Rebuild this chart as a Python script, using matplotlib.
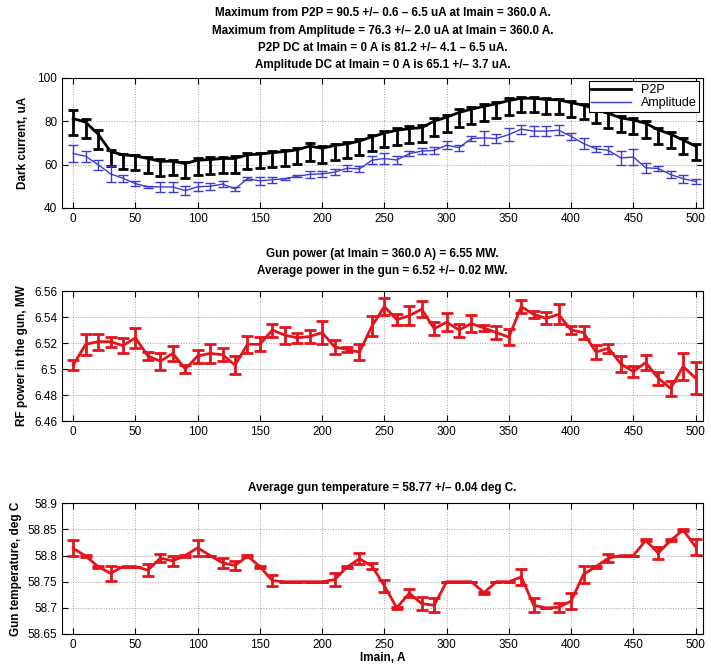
import numpy as np
import matplotlib
matplotlib.use("Agg")
import matplotlib.pyplot as plt
from matplotlib.ticker import FormatStrFormatter, MultipleLocator

plt.rcParams['font.family'] = ['Liberation Sans', 'DejaVu Sans']

# Imain scan, A
imain = np.arange(0, 501, 10)

# dark current, P2P (asymmetric bars: upper = stat, lower = stat + syst)
p2p = [81.2, 79.5, 74.0, 66.0, 64.5, 64.0, 62.8, 61.5, 61.5, 60.5,
       62.0, 62.3, 62.8, 62.8, 64.5, 64.8, 65.5, 66.0, 66.8, 68.5,
       67.5, 68.8, 69.5, 70.8, 72.8, 74.5, 75.8, 76.5, 77.0, 80.0,
       81.8, 84.0, 85.5, 86.8, 88.0, 89.5, 90.5, 90.5, 90.0, 89.8,
       88.5, 87.3, 85.5, 83.5, 81.5, 80.5, 79.0, 76.0, 74.0, 71.3,
       68.5]
p2p_up = [4.1, 1.5, 2.0, 0.6, 0.5, 0.5, 0.6, 0.9, 0.6, 0.9,
          0.9, 1.0, 0.6, 1.0, 0.9, 0.6, 0.7, 0.6, 0.6, 1.5,
          0.9, 0.7, 0.8, 1.0, 1.0, 0.9, 1.1, 1.2, 1.2, 1.5,
          1.0, 1.4, 1.1, 0.9, 0.9, 1.0, 0.6, 0.6, 0.8, 0.6,
          0.7, 0.7, 0.7, 0.8, 0.8, 1.0, 1.0, 0.9, 1.1, 1.1,
          0.8]
p2p_low = [7.7, 7.2, 6.8, 6.5, 6.5, 6.5, 6.5, 6.6, 6.5, 6.6,
           6.6, 6.6, 6.5, 6.6, 6.6, 6.5, 6.5, 6.5, 6.5, 6.7,
           6.6, 6.5, 6.6, 6.6, 6.6, 6.6, 6.6, 6.6, 6.6, 6.7,
           6.6, 6.7, 6.6, 6.6, 6.6, 6.6, 6.5, 6.5, 6.6, 6.5,
           6.5, 6.5, 6.5, 6.6, 6.6, 6.6, 6.6, 6.6, 6.6, 6.6,
           6.6]

# dark current, amplitude
amp = [65.1, 63.8, 60.0, 55.7, 53.7, 51.2, 49.8, 49.7, 49.7, 48.0,
       49.8, 50.0, 51.0, 48.8, 53.5, 52.5, 53.0, 53.5, 54.6, 55.5,
       55.7, 56.5, 58.3, 58.0, 62.0, 62.8, 62.1, 65.0, 66.2, 66.5,
       68.9, 67.8, 72.0, 72.3, 72.0, 73.8, 76.3, 75.4, 75.4, 75.8,
       73.0, 69.7, 67.2, 66.6, 63.0, 63.5, 58.5, 58.2, 55.4, 53.5,
       52.2]
amp_err = [3.7, 2.6, 2.3, 3.6, 1.7, 1.2, 0.5, 2.3, 2.3, 2.1,
           2.1, 1.5, 1.5, 1.0, 0.8, 1.7, 1.5, 0.5, 0.5, 1.7,
           1.5, 1.3, 1.4, 1.2, 1.9, 2.4, 1.8, 1.2, 1.2, 1.5,
           1.9, 1.4, 1.2, 3.1, 1.9, 3.1, 2.0, 2.3, 2.3, 2.3,
           1.5, 2.7, 1.3, 1.9, 3.1, 3.5, 2.3, 1.2, 1.8, 1.9,
           1.0]

# RF power in the gun, MW
power = [6.503, 6.519, 6.521, 6.521, 6.518, 6.524, 6.510, 6.506, 6.512, 6.500,
         6.510, 6.512, 6.511, 6.503, 6.519, 6.519, 6.530, 6.526, 6.524, 6.525,
         6.528, 6.517, 6.515, 6.513, 6.533, 6.548, 6.538, 6.541, 6.546, 6.531,
         6.536, 6.530, 6.535, 6.5315, 6.528, 6.5245, 6.548, 6.542, 6.539, 6.542,
         6.530, 6.528, 6.513, 6.516, 6.504, 6.498, 6.505, 6.493, 6.485, 6.502,
         6.493]
power_err = [0.004, 0.008, 0.006, 0.004, 0.006, 0.0075, 0.003, 0.0065, 0.006, 0.003,
             0.005, 0.007, 0.005, 0.007, 0.0065, 0.0055, 0.005, 0.0065, 0.004, 0.005,
             0.009, 0.0055, 0.002, 0.006, 0.0075, 0.0065, 0.0045, 0.0073, 0.006, 0.005,
             0.0067, 0.005, 0.0065, 0.0025, 0.005, 0.006, 0.005, 0.0025, 0.0045, 0.0077,
             0.003, 0.005, 0.0055, 0.0035, 0.006, 0.004, 0.006, 0.005, 0.0055, 0.0105,
             0.0125]

# gun temperature, deg C
temp = [58.814, 58.799, 58.779, 58.766, 58.779, 58.779, 58.772, 58.795, 58.790, 58.800,
        58.815, 58.800, 58.786, 58.781, 58.799, 58.779, 58.752, 58.750, 58.750, 58.750,
        58.750, 58.754, 58.778, 58.794, 58.780, 58.742, 58.700, 58.728, 58.708, 58.705,
        58.750, 58.750, 58.750, 58.729, 58.750, 58.750, 58.759, 58.705, 58.700, 58.701,
        58.713, 58.764, 58.779, 58.795, 58.800, 58.800, 58.829, 58.805, 58.829, 58.849,
        58.817]
temp_err = [0.0155, 0.002, 0.002, 0.0145, 0.0, 0.0, 0.011, 0.0075, 0.01, 0.002,
            0.015, 0.0, 0.01, 0.009, 0.002, 0.002, 0.01, 0.0, 0.0, 0.0,
            0.0, 0.012, 0.002, 0.01, 0.006, 0.011, 0.002, 0.008, 0.013, 0.013,
            0.0, 0.0, 0.0, 0.002, 0.0, 0.0, 0.0145, 0.013, 0.0, 0.009,
            0.016, 0.0155, 0.002, 0.008, 0.0, 0.0, 0.002, 0.012, 0.002, 0.002,
            0.015]

W, H = 711, 667
fig = plt.figure(figsize=(W / 100, H / 100), dpi=100)


def make_ax(top, bottom):
    ax = fig.add_axes([62 / W, 1 - bottom / H, 641 / W, (bottom - top) / H])
    ax.set_xlim(-9, 506)
    ax.xaxis.set_major_locator(MultipleLocator(50))
    ax.grid(True, linestyle=':', color='#a0a0a0', linewidth=0.7)
    ax.tick_params(direction='in', top=True, right=True, labelsize=8.5, length=4)
    for s in ax.spines.values():
        s.set_linewidth(0.8)
    return ax


title_kw = dict(fontsize=8.4, fontweight='bold', linespacing=1.58)
label_kw = dict(fontsize=8.5, fontweight='bold')

# dark current
ax1 = make_ax(77.7, 208)
blue = '#3c3cd2'
ax1.errorbar(imain, p2p, yerr=[p2p_low, p2p_up], color='black', lw=2,
             elinewidth=2, capsize=3.5, capthick=2, label='P2P')
ax1.errorbar(imain, amp, yerr=amp_err, color=blue, lw=1,
             elinewidth=1, capsize=3.5, capthick=1, label='Amplitude')
ax1.set_ylim(40, 100)
ax1.set_yticks([40, 60, 80, 100])
ax1.set_ylabel('Dark current, uA', labelpad=6, **label_kw)
ax1.set_title('Maximum from P2P = 90.5 +/\u2013 0.6 \u2013 6.5 uA at Imain = 360.0 A.\n'
              'Maximum from Amplitude = 76.3 +/\u2013 2.0 uA at Imain = 360.0 A.\n'
              'P2P DC at Imain = 0 A is 81.2 +/\u2013 4.1 \u2013 6.5 uA.\n'
              'Amplitude DC at Imain = 0 A is 65.1 +/\u2013 3.7 uA.', pad=7, **title_kw)
h, l = ax1.get_legend_handles_labels()
h = [hh[0] for hh in h]
leg = ax1.legend(h, l, loc='upper right', fontsize=9, fancybox=False,
                 edgecolor='black', framealpha=1, borderaxespad=0.3,
                 handlelength=3.2, borderpad=0.2, labelspacing=0.1)
leg.get_frame().set_linewidth(0.8)

# RF power
red = '#e3141b'
ax2 = make_ax(291, 421)
ax2.errorbar(imain, power, yerr=power_err, color=red, lw=2,
             elinewidth=2, capsize=4, capthick=2)
ax2.set_ylim(6.46, 6.56)
ax2.set_yticks([6.46, 6.48, 6.50, 6.52, 6.54, 6.56])
ax2.yaxis.set_major_formatter(FormatStrFormatter('%g'))
ax2.set_ylabel('RF power in the gun, MW', labelpad=4, **label_kw)
ax2.set_title('Gun power (at Imain = 360.0 A) = 6.55 MW.\n'
              'Average power in the gun = 6.52 +/\u2013 0.02 MW.', pad=12, **title_kw)

# gun temperature
ax3 = make_ax(503.3, 634)
ax3.errorbar(imain, temp, yerr=temp_err, color=red, lw=2,
             elinewidth=2, capsize=4, capthick=2)
ax3.set_ylim(58.65, 58.9)
ax3.set_yticks([58.65, 58.7, 58.75, 58.8, 58.85, 58.9])
ax3.yaxis.set_major_formatter(FormatStrFormatter('%g'))
ax3.set_ylabel('Gun temperature, deg C', labelpad=4, **label_kw)
ax3.set_xlabel('Imain, A', labelpad=1, **label_kw)
ax3.set_title('Average gun temperature = 58.77 +/\u2013 0.04 deg C.', pad=9, **title_kw)

fig.savefig('out.png', dpi=100)
